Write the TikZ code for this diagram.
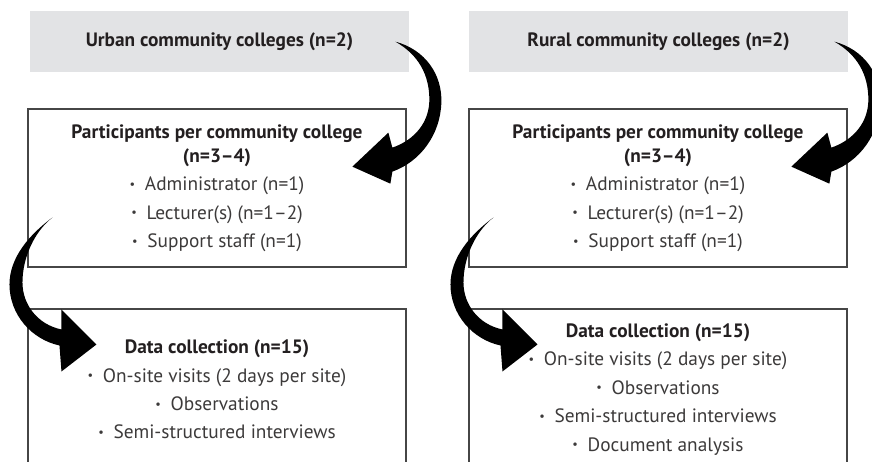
\documentclass[tikz,border=0pt]{standalone}
\usepackage{fontspec}
\setmainfont{PT Sans}
\usepackage{xcolor}
\usepackage{tikz}

\definecolor{boxgray}{RGB}{226,227,229}
\definecolor{rulegray}{RGB}{70,70,70}
\definecolor{inkblack}{RGB}{35,31,32}
\definecolor{inkgray}{RGB}{60,58,58}
% small centred bullet in front of each list entry
\newcommand{\itm}{\raisebox{0.25ex}{\scriptsize\textbullet}\hspace{0.5em}}

\begin{document}
\begin{tikzpicture}[
    headbox/.style={fill=boxgray, minimum width=7.58cm, minimum height=1.22cm, inner sep=0pt,
        text=inkblack, font=\fontsize{11}{13}\selectfont\bfseries},
    listbox/.style={draw=rulegray, line width=0.6pt, minimum width=7.56cm, inner sep=0pt,
        align=center, text=inkgray, font=\fontsize{11}{16.2}\selectfont},
    % fat curved arrow: out of a heading, bending right and back into the box below
    pics/bendright/.style={code={
        \fill[black] (-0.28,-0.62) .. controls (0.32,-0.78) and (0.66,-1.28) .. (0.64,-1.84)
            .. controls (0.62,-2.48) and (0.22,-3.02) .. (-0.34,-3.22)
            -- (-0.38,-3.46) -- (-1.14,-3.12) -- (-0.42,-2.44) -- (-0.34,-2.74)
            .. controls (0.12,-2.58) and (0.40,-2.22) .. (0.40,-1.78)
            .. controls (0.40,-1.28) and (0.18,-0.88) .. (-0.28,-0.62) -- cycle;}},
    % same idea, bending left into the data collection box
    pics/bendleft/.style={code={
        \fill[black] (0.50,1.82) .. controls (0.04,1.48) and (-0.36,1.02) .. (-0.36,0.48)
            .. controls (-0.36,-0.12) and (0.08,-0.62) .. (0.64,-0.74)
            -- (0.68,-1.26) -- (1.38,-0.72) -- (0.68,-0.02) -- (0.68,-0.42)
            .. controls (0.20,-0.32) and (-0.10,0.08) .. (-0.10,0.52)
            .. controls (-0.10,1.02) and (0.14,1.54) .. (0.50,1.82) -- cycle;}}
]
    \useasboundingbox (0,0) rectangle (17.44,-9.24);
    \clip (0,0) rectangle (17.44,-9.24);

    % urban colleges
    \node[headbox] (urban) at (4.39,-0.83) {Urban community colleges (n=2)};
    \node[listbox, minimum height=3.16cm] (urbanpart) at (4.34,-3.76) {
        \textcolor{inkblack}{\textbf{Participants per community college}}\\[-2.5pt]
        \textcolor{inkblack}{\textbf{(n=3--4)}}\\
        \itm Administrator (n=1)\\
        \itm Lecturer(s) (n=1--2)\\
        \itm Support staff (n=1)};
    \node[listbox, minimum height=3.22cm] (urbandata) at (4.34,-7.79) {
        \textcolor{inkblack}{\textbf{Data collection (n=15)}}\\
        \itm On-site visits (2 days per site)\\
        \itm Observations\\
        \itm Semi-structured interviews};

    % rural colleges
    \node[headbox] (rural) at (13.17,-0.83) {Rural community colleges (n=2)};
    \node[listbox, minimum height=3.16cm] (ruralpart) at (13.16,-3.76) {
        \textcolor{inkblack}{\textbf{Participants per community college}}\\[-2.5pt]
        \textcolor{inkblack}{\textbf{(n=3--4)}}\\
        \itm Administrator (n=1)\\
        \itm Lecturer(s) (n=1--2)\\
        \itm Support staff (n=1)};
    \node[listbox, minimum height=3.22cm] (ruraldata) at (13.16,-7.79) {
        \textcolor{inkblack}{\textbf{Data collection (n=15)}}\\
        \itm On-site visits (2 days per site)\\
        \itm Observations\\
        \itm Semi-structured interviews\\
        \itm Document analysis};

    \pic at (urban.north east) {bendright};
    \pic at (rural.north east) {bendright};
    \pic at (urbandata.north west) {bendleft};
    \pic at (ruraldata.north west) {bendleft};
\end{tikzpicture}
\end{document}
